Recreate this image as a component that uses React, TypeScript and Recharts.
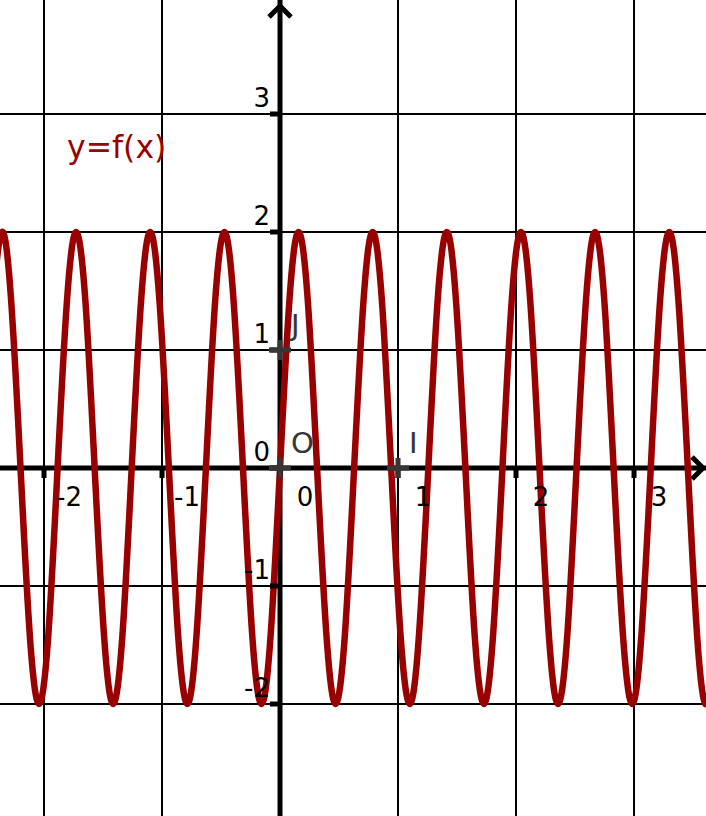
import { ComposedChart, Line, XAxis, YAxis, ReferenceLine, ReferenceDot } from 'recharts';

// grid / axis ticks
const xTicks = [-2, -1, 0, 1, 2, 3];
const yTicks = [-2, -1, 0, 1, 2, 3];
const xTickLabels = ['-2', '-1', '0', '1', '2', '3'];
const yTickLabels = ['-2', '-1', '0', '1', '2', '3'];

// named points
const pointNames = ['O', 'I', 'J'];
const pointX = [0, 1, 0];
const pointY = [0, 0, 1];

// curve samples
const curveX = [
  -2.435, -2.356, -2.278, -2.199, -2.121, -2.042, -1.963, -1.885, -1.806, -1.728,
  -1.649, -1.571, -1.492, -1.414, -1.335, -1.257, -1.178, -1.1, -1.021, -0.942,
  -0.864, -0.785, -0.707, -0.628, -0.55, -0.471, -0.393, -0.314, -0.236, -0.157,
  -0.079, 0, 0.079, 0.157, 0.236, 0.314, 0.393, 0.471, 0.55, 0.628,
  0.707, 0.785, 0.864, 0.942, 1.021, 1.1, 1.178, 1.257, 1.335, 1.414,
  1.492, 1.571, 1.649, 1.728, 1.806, 1.885, 1.963, 2.042, 2.121, 2.199,
  2.278, 2.356, 2.435, 2.513, 2.592, 2.67, 2.749, 2.827, 2.906, 2.985,
  3.063, 3.142, 3.22, 3.299, 3.377, 3.456, 3.534, 3.613, 3.691,
];
const curveY = [
  1.41, 2, 1.41, 0, -1.41, -2, -1.41, 0,
  1.41, 2, 1.41, 0, -1.41, -2, -1.41, 0,
  1.41, 2, 1.41, 0, -1.41, -2, -1.41, 0,
  1.41, 2, 1.41, 0, -1.41, -2, -1.41, 0,
  1.41, 2, 1.41, 0, -1.41, -2, -1.41, 0,
  1.41, 2, 1.41, 0, -1.41, -2, -1.41, 0,
  1.41, 2, 1.41, 0, -1.41, -2, -1.41, 0,
  1.41, 2, 1.41, 0, -1.41, -2, -1.41, 0,
  1.41, 2, 1.41, 0, -1.41, -2, -1.41, 0,
  1.41, 2, 1.41, 0, -1.41, -2, -1.41,
];

const xDomain: [number, number] = [-2.373, 3.61];
const yDomain: [number, number] = [-2.949, 3.966];

const FONT = '"DejaVu Sans", sans-serif';
const GRAY = '#363636';
const RED = '#990000';

const data = curveX.map((x, i) => ({ x, y: curveY[i] }));

const xTickShape = (label: string) => (p: any) => (
  <g>
    <line x1={p.cx} y1={p.cy} x2={p.cx} y2={p.cy + 10} stroke="#000" strokeWidth={5} />
    <text x={p.cx + 25} y={p.cy + 38} textAnchor="middle" fontSize={26} fontFamily={FONT} fill="#000">
      {label}
    </text>
  </g>
);

const yTickShape = (label: string) => (p: any) => (
  <g>
    <line x1={p.cx - 10} y1={p.cy} x2={p.cx} y2={p.cy} stroke="#000" strokeWidth={5} />
    <text x={p.cx - 10} y={p.cy - 7} textAnchor="end" fontSize={26} fontFamily={FONT} fill="#000">
      {label}
    </text>
  </g>
);

const pointShape = (name: string) => (p: any) => (
  <g>
    <line x1={p.cx - 11} y1={p.cy} x2={p.cx + 11} y2={p.cy} stroke={GRAY} strokeWidth={5} />
    <line x1={p.cx} y1={p.cy - 10} x2={p.cx} y2={p.cy + 10} stroke={GRAY} strokeWidth={5} />
    <text x={p.cx + 11} y={p.cy - 15} fontSize={29} fontFamily={FONT} fill={GRAY}>
      {name}
    </text>
  </g>
);

const upArrow = (p: any) => (
  <path d={`M${p.cx - 11},${p.cy + 11} L${p.cx},${p.cy} L${p.cx + 11},${p.cy + 11}`} stroke="#000" strokeWidth={5} fill="none" />
);

const rightArrow = (p: any) => (
  <path d={`M${p.cx - 11},${p.cy - 11} L${p.cx},${p.cy} L${p.cx - 11},${p.cy + 11}`} stroke="#000" strokeWidth={5} fill="none" />
);

const curveLabel = (p: any) => (
  <text x={p.cx + 23} y={p.cy + 44} fontSize={31.5} fontFamily={FONT} fill={RED}>
    y=f(x)
  </text>
);

export default function App() {
  return (
    <div style={{ position: 'absolute', left: 0, top: 0, background: '#fff' }}>
      <ComposedChart width={706} height={816} data={data} margin={{ top: 0, right: 0, bottom: 0, left: 0 }}>
        <XAxis type="number" dataKey="x" domain={xDomain} allowDataOverflow hide />
        <YAxis type="number" domain={yDomain} allowDataOverflow hide />

        {xTicks.filter((t) => t !== 0).map((t) => (
          <ReferenceLine key={'gx' + t} x={t} stroke="#000" strokeWidth={2} />
        ))}
        {yTicks.filter((t) => t !== 0).map((t) => (
          <ReferenceLine key={'gy' + t} y={t} stroke="#000" strokeWidth={2} />
        ))}

        <ReferenceLine x={0} stroke="#000" strokeWidth={5} />
        <ReferenceLine y={0} stroke="#000" strokeWidth={5} />
        <ReferenceDot x={0} y={3.915} shape={upArrow} />
        <ReferenceDot x={3.585} y={0} shape={rightArrow} />

        {xTicks.map((t, i) => (
          <ReferenceDot key={'tx' + t} x={t} y={0} shape={xTickShape(xTickLabels[i])} />
        ))}
        {yTicks.map((t, i) => (
          <ReferenceDot key={'ty' + t} x={0} y={t} shape={yTickShape(yTickLabels[i])} />
        ))}

        <ReferenceDot x={-2} y={3} shape={curveLabel} />

        {pointNames.map((n, i) => (
          <ReferenceDot key={n} x={pointX[i]} y={pointY[i]} shape={pointShape(n)} />
        ))}

        <Line
          type="natural"
          dataKey="y"
          stroke={RED}
          strokeWidth={6.5}
          dot={false}
          activeDot={false}
          isAnimationActive={false}
        />
      </ComposedChart>
    </div>
  );
}
